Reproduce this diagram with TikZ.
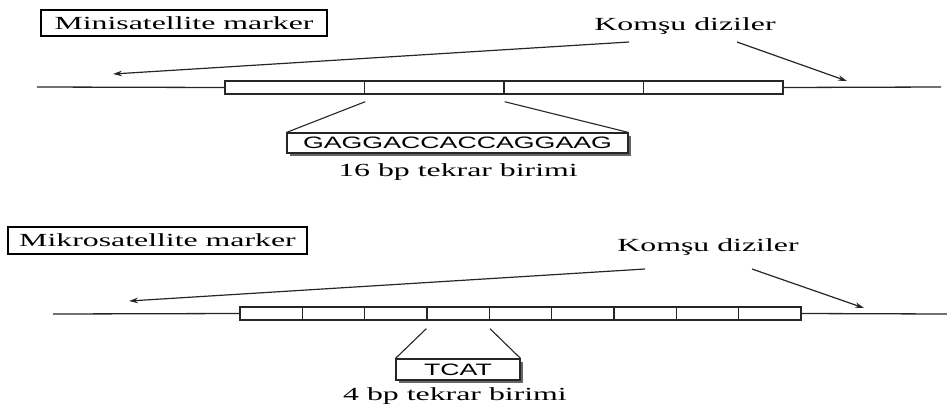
\documentclass[tikz,border=0pt]{standalone}
\usepackage{fontspec}
\setmainfont[FakeStretch=1.72]{Liberation Serif}
\setsansfont[FakeStretch=1.62]{Liberation Sans}
\usetikzlibrary{shadows,arrows.meta}
\tikzset{
  lbl/.style={draw, line width=1.1pt, inner sep=0pt, font=\fontsize{18.5}{20}\selectfont},
  unit/.style={draw=black!85, line width=1.4pt, fill=white, inner sep=0pt, minimum height=13pt},
  seq/.style={draw=black!85, line width=1.1pt, fill=white, inner sep=0pt, minimum height=20pt,
    font=\sffamily\fontsize{16.5}{18}\selectfont,
    drop shadow={shadow xshift=2.5pt, shadow yshift=-2.5pt, fill=black!60, opacity=1}},
  txt/.style={anchor=base, inner sep=0pt, font=\fontsize{18.5}{20}\selectfont},
  dna/.style={draw=black!85, line width=1.3pt},
  pt/.style={draw=black!85, line width=1.2pt, -{Stealth[length=9pt, width=5.5pt]}},
}
\begin{document}
\begin{tikzpicture}[x=1pt, y=-1pt]
\useasboundingbox (0,0) rectangle (947,405);
% minisatellite
\node[lbl, minimum width=286pt, minimum height=26pt] (mini) at (184,23) {Minisatellite marker};
\coordinate (mL) at (37,87);
\coordinate (mR) at (941,87);
\foreach \i in {0,...,3}
  \node[unit, minimum width=139.5pt] (m\i) at ({294.75+139.5*\i},87.5) {};
\draw[dna] (mL) -- (m0.west);
\draw[dna] (m3.east) -- (mR);
\node[txt] (mk) at (685,30) {Komşu diziler};
\coordinate (mkA) at (629,42);
\coordinate (mkB) at (737,42);
\coordinate (mTipL) at (113,74);
\coordinate (mTipR) at (847,81);
\draw[pt] (mkA) -- (mTipL);
\draw[pt] (mkB) -- (mTipR);
\node[seq, minimum width=341pt] (mseq) at (457.5,143) {GAGGACCACCAGGAAG};
\draw[dna, line width=1.1pt] ([yshift=-7pt]m0.south east) -- (mseq.north west);
\draw[dna, line width=1.1pt] ([yshift=-7pt]m1.south east) -- (mseq.north east);
\node[txt] (mrep) at (458,176) {16 bp tekrar birimi};
% mikrosatellite
\node[lbl, minimum width=299pt, minimum height=27pt] (mikro) at (157.5,240.5) {Mikrosatellite marker};
\coordinate (kL) at (53,314);
\coordinate (kR) at (947,314);
\foreach \i in {0,...,8}
  \node[unit, minimum width=62.33pt] (k\i) at ({271.17+62.33*\i},313.5) {};
\draw[dna] (kL) -- (k0.west);
\draw[dna] (k8.east) -- (kR);
\node[txt] (kk) at (708,251) {Komşu diziler};
\coordinate (kkA) at (645,269);
\coordinate (kkB) at (752,269);
\coordinate (kTipL) at (129,301);
\coordinate (kTipR) at (864,308);
\draw[pt] (kkA) -- (kTipL);
\draw[pt] (kkB) -- (kTipR);
\node[seq, minimum width=124pt, minimum height=21pt] (kseq) at (458,369.5) {TCAT};
\draw[dna, line width=1.1pt] ([yshift=-8pt]k3.south west) -- (kseq.north west);
\draw[dna, line width=1.1pt] ([yshift=-8pt]k3.south east) -- (kseq.north east);
\node[txt] (krep) at (455,400) {4 bp tekrar birimi};
\end{tikzpicture}
\end{document}
